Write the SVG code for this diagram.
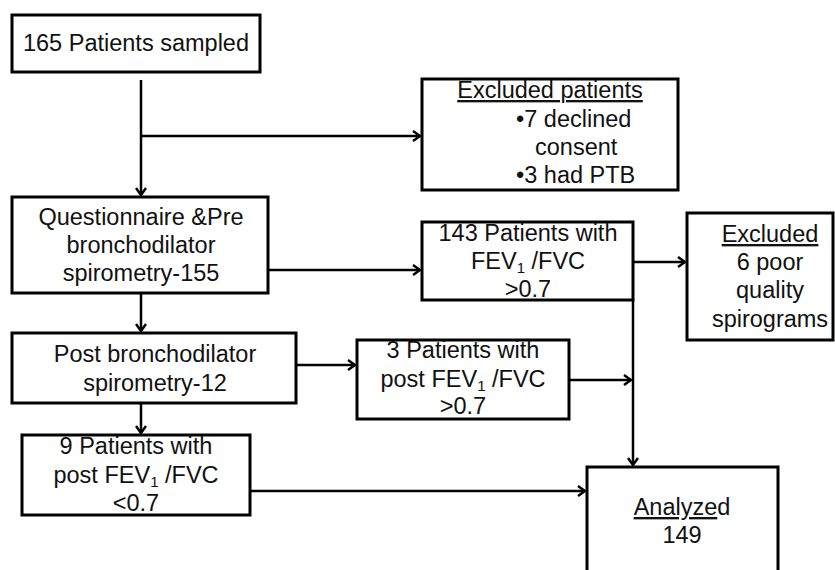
<svg xmlns="http://www.w3.org/2000/svg" width="835" height="570" viewBox="0 0 835 570">
<defs>
<marker id="arr" markerWidth="12" markerHeight="12" refX="10" refY="6" orient="auto" markerUnits="userSpaceOnUse">
<path d="M3,1 L10,6 L3,11" fill="none" stroke="#000" stroke-width="2.5"/>
</marker>
<style>
.box{fill:#fff;stroke:#000;stroke-width:3}
.t{font-family:"Liberation Sans",Arial,sans-serif;font-size:23.5px;fill:#111;text-anchor:middle}
.l{text-anchor:start}
.c{fill:none;stroke:#000;stroke-width:2.5}
.u{text-decoration:underline}
.sub{font-size:15px}
</style>
</defs>
<rect width="835" height="570" fill="#fff"/>
<g id="connectors">
<path class="c" d="M141,80 V195" marker-end="url(#arr)"/>
<path class="c" d="M141,136 H420" marker-end="url(#arr)"/>
<path class="c" d="M268,270 H420" marker-end="url(#arr)"/>
<path class="c" d="M633,262 H685" marker-end="url(#arr)"/>
<path class="c" d="M633,300 V465" marker-end="url(#arr)"/>
<path class="c" d="M141,293 V331" marker-end="url(#arr)"/>
<path class="c" d="M296,365 H355" marker-end="url(#arr)"/>
<path class="c" d="M569,380 H631" marker-end="url(#arr)"/>
<path class="c" d="M141,403 V433" marker-end="url(#arr)"/>
<path class="c" d="M250,491 H585" marker-end="url(#arr)"/>
</g>
<g id="sampled">
<rect class="box" x="12" y="15" width="248" height="57"/>
<text class="t" x="136" y="51">165 Patients sampled</text>
</g>
<g id="excluded1">
<rect class="box" x="422" y="79" width="256" height="111"/>
<text class="t u" x="550" y="98">Excluded patients</text>
<text class="t l" x="516" y="127">•7 declined</text>
<text class="t l" x="535" y="155">consent</text>
<text class="t l" x="516" y="183">•3 had PTB</text>
</g>
<g id="questionnaire">
<rect class="box" x="12" y="197" width="256" height="96"/>
<text class="t" x="141" y="225">Questionnaire &amp;Pre</text>
<text class="t" x="141" y="253">bronchodilator</text>
<text class="t" x="141" y="281">spirometry-155</text>
</g>
<g id="p143">
<rect class="box" x="422" y="222" width="211" height="78"/>
<text class="t" x="528" y="241">143 Patients with</text>
<text class="t" x="528" y="269">FEV<tspan class="sub" dy="4">1</tspan><tspan dy="-4"> /FVC</tspan></text>
<text class="t" x="528" y="297">&gt;0.7</text>
</g>
<g id="excluded2">
<rect class="box" x="687" y="213" width="146" height="127"/>
<text class="t u" x="770" y="242">Excluded</text>
<text class="t" x="770" y="270">6 poor</text>
<text class="t" x="770" y="298">quality</text>
<text class="t" x="770" y="327">spirograms</text>
</g>
<g id="post">
<rect class="box" x="12" y="333" width="284" height="70"/>
<text class="t" x="155" y="362">Post bronchodilator</text>
<text class="t" x="155" y="391">spirometry-12</text>
</g>
<g id="p3">
<rect class="box" x="357" y="340" width="212" height="79"/>
<text class="t" x="463" y="358">3 Patients with</text>
<text class="t" x="463" y="387">post FEV<tspan class="sub" dy="4">1</tspan><tspan dy="-4"> /FVC</tspan></text>
<text class="t" x="463" y="414">&gt;0.7</text>
</g>
<g id="p9">
<rect class="box" x="22" y="435" width="228" height="80"/>
<text class="t" x="136" y="454">9 Patients with</text>
<text class="t" x="136" y="483">post  FEV<tspan class="sub" dy="4">1</tspan><tspan dy="-4"> /FVC</tspan></text>
<text class="t" x="136" y="511">&lt;0.7</text>
</g>
<g id="analyzed">
<rect class="box" x="587" y="467" width="191" height="110"/>
<text class="t" x="682" y="515"><tspan class="u">Analyze</tspan>d</text>
<text class="t" x="682" y="543">149</text>
</g>
</svg>
